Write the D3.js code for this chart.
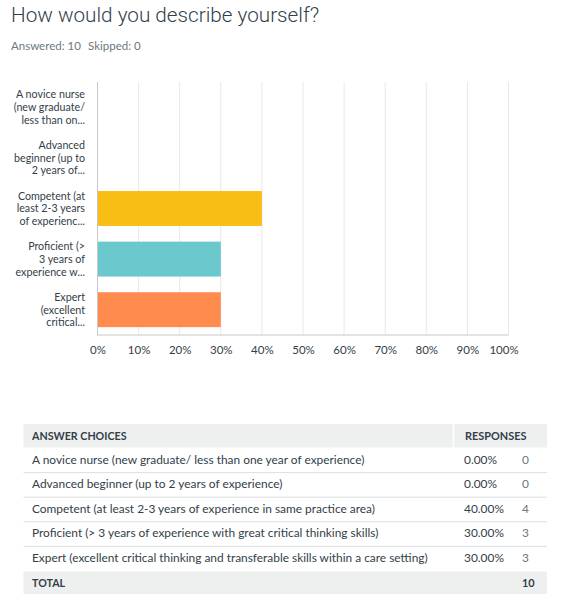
<!DOCTYPE html>
<html>
<head>
<meta charset="utf-8">
<script src="https://cdn.jsdelivr.net/npm/d3@7/dist/d3.min.js"></script>
<style>
  html, body { margin: 0; padding: 0; background: #fff; }
  svg { display: block; }
</style>
</head>
<body>
<svg id="chart" width="567" height="596"></svg>
<script>
const title = "How would you describe yourself?";
const answered = 10;
const skipped = 0;
const categoryLabels = [
  ["A novice nurse", "(new graduate/", "less than on..."],
  ["Advanced", "beginner (up to", "2 years of..."],
  ["Competent (at", "least 2-3 years", "of experienc..."],
  ["Proficient (>", "3 years of", "experience w..."],
  ["Expert", "(excellent", "critical..."]
];
const choices = [
  "A novice nurse (new graduate/ less than one year of experience)",
  "Advanced beginner (up to 2 years of experience)",
  "Competent (at least 2-3 years of experience in same practice area)",
  "Proficient (> 3 years of experience with great critical thinking skills)",
  "Expert (excellent critical thinking and transferable skills within a care setting)"
];
const percents = [0, 0, 40, 30, 30];
const counts = [0, 0, 4, 3, 3];
const total = 10;
const barColors = ["#6bc8cd", "#f9be15", "#f9be15", "#6bc8cd", "#ff8b4f"];
const xTicks = [0, 10, 20, 30, 40, 50, 60, 70, 80, 90, 100];

const FONT = "Lato, 'Open Sans', sans-serif";
const TEXT = "#333e48";
const svg = d3.select("#chart");

// Title and summary
svg.append("text").attr("x", 11).attr("y", 22)
  .attr("font-family", "Roboto, " + FONT).attr("font-weight", 300)
  .attr("font-size", 20.7).attr("fill", TEXT).text(title);
svg.append("text").attr("x", 11).attr("y", 50)
  .attr("font-family", FONT).attr("font-size", 11.5).attr("fill", "#6b787f")
  .text("Answered: " + answered);
svg.append("text").attr("x", 88).attr("y", 50)
  .attr("font-family", FONT).attr("font-size", 11.5).attr("fill", "#6b787f")
  .text("Skipped: " + skipped);

// Bar chart
const plot = { left: 97.5, right: 508.5, top: 82, bottom: 335 };
const x = d3.scaleLinear().domain([0, 100]).range([plot.left, plot.right]);
const y = d3.scaleBand().domain(d3.range(categoryLabels.length))
  .range([plot.top, plot.bottom]).paddingInner(0.31).paddingOuter(0.155);

const g = svg.append("g");
g.selectAll("line.grid").data(xTicks.slice(1)).join("line")
  .attr("class", "grid")
  .attr("x1", d => x(d)).attr("x2", d => x(d))
  .attr("y1", plot.top).attr("y2", plot.bottom)
  .attr("stroke", "#e9e9e9").attr("stroke-width", 1);

g.selectAll("rect.bar").data(percents).join("rect")
  .attr("class", "bar")
  .attr("x", x(0))
  .attr("y", (d, i) => y(i))
  .attr("width", d => x(d) - x(0))
  .attr("height", y.bandwidth())
  .attr("fill", (d, i) => barColors[i]);

g.append("line").attr("x1", plot.left).attr("x2", plot.left)
  .attr("y1", plot.top).attr("y2", plot.bottom)
  .attr("stroke", "#c8c8c8").attr("stroke-width", 1);
g.append("line").attr("x1", plot.left).attr("x2", plot.right)
  .attr("y1", plot.bottom).attr("y2", plot.bottom)
  .attr("stroke", "#c8c8c8").attr("stroke-width", 1);

const xAxis = d3.axisBottom(x).tickValues(xTicks).tickFormat(d => d + "%").tickSize(0).tickPadding(0);
const xa = svg.append("g").attr("transform", `translate(0,${plot.bottom + 19})`).call(xAxis);
xa.select(".domain").remove();
xa.selectAll("text").attr("font-family", FONT).attr("font-size", 11.5)
  .attr("fill", TEXT).attr("dy", 0)
  .attr("dx", d => d === 100 ? -5 : 0);

const yl = svg.append("g");
categoryLabels.forEach((lines, i) => {
  const cy = y(i) + y.bandwidth() / 2;
  const t = yl.append("text")
    .attr("x", 85).attr("text-anchor", "end")
    .attr("font-family", FONT).attr("font-size", 10.7).attr("fill", TEXT);
  lines.forEach((ln, j) => {
    t.append("tspan").attr("x", 85)
      .attr("y", cy + (j - 1) * 12.7 + 3.8).text(ln);
  });
});

// Table
const tbl = { left: 23.5, right: 547, top: 424, headH: 23.5, rowH: 24.6 };
const colDiv = 453.5;
const pctLeft = 464;
const cntLeft = 522;
const ROWFS = 11.9;
const tg = svg.append("g");
tg.append("rect").attr("x", tbl.left).attr("y", tbl.top)
  .attr("width", tbl.right - tbl.left).attr("height", tbl.headH).attr("fill", "#eef0f0");
tg.append("line").attr("x1", colDiv).attr("x2", colDiv)
  .attr("y1", tbl.top).attr("y2", tbl.top + tbl.headH)
  .attr("stroke", "#fff").attr("stroke-width", 1.5);
tg.append("text").attr("x", 32).attr("y", tbl.top + 15.5)
  .attr("font-family", FONT).attr("font-weight", 700).attr("font-size", 10.7)
  .attr("fill", TEXT).text("ANSWER CHOICES");
tg.append("text").attr("x", 465).attr("y", tbl.top + 15.5)
  .attr("font-family", FONT).attr("font-weight", 700).attr("font-size", 10.9)
  .attr("fill", TEXT).text("RESPONSES");

const rowTop = i => tbl.top + tbl.headH + i * tbl.rowH;
choices.forEach((c, i) => {
  const ty = rowTop(i) + 16;
  if (i > 0) {
    tg.append("line").attr("x1", tbl.left).attr("x2", tbl.right)
      .attr("y1", rowTop(i) + 0.5).attr("y2", rowTop(i) + 0.5)
      .attr("stroke", "#dcdfe0");
  }
  tg.append("text").attr("x", 32).attr("y", ty)
    .attr("font-family", FONT).attr("font-size", ROWFS).attr("fill", TEXT).text(c);
  tg.append("text").attr("x", pctLeft).attr("y", ty)
    .attr("font-family", FONT).attr("font-size", ROWFS).attr("fill", TEXT)
    .text(percents[i].toFixed(2) + "%");
  tg.append("text").attr("x", cntLeft).attr("y", ty)
    .attr("font-family", FONT).attr("font-size", ROWFS).attr("fill", "#6b787f")
    .text(counts[i]);
});
const totTop = rowTop(choices.length) + 1;
tg.append("rect").attr("x", tbl.left).attr("y", totTop)
  .attr("width", tbl.right - tbl.left).attr("height", 22.5).attr("fill", "#eef0f0");
tg.append("text").attr("x", 32).attr("y", totTop + 15)
  .attr("font-family", FONT).attr("font-weight", 700).attr("font-size", 10.7)
  .attr("fill", TEXT).text("TOTAL");
tg.append("text").attr("x", cntLeft).attr("y", totTop + 15)
  .attr("font-family", FONT).attr("font-weight", 700).attr("font-size", 10.9)
  .attr("fill", TEXT).text(total);
</script>
</body>
</html>
